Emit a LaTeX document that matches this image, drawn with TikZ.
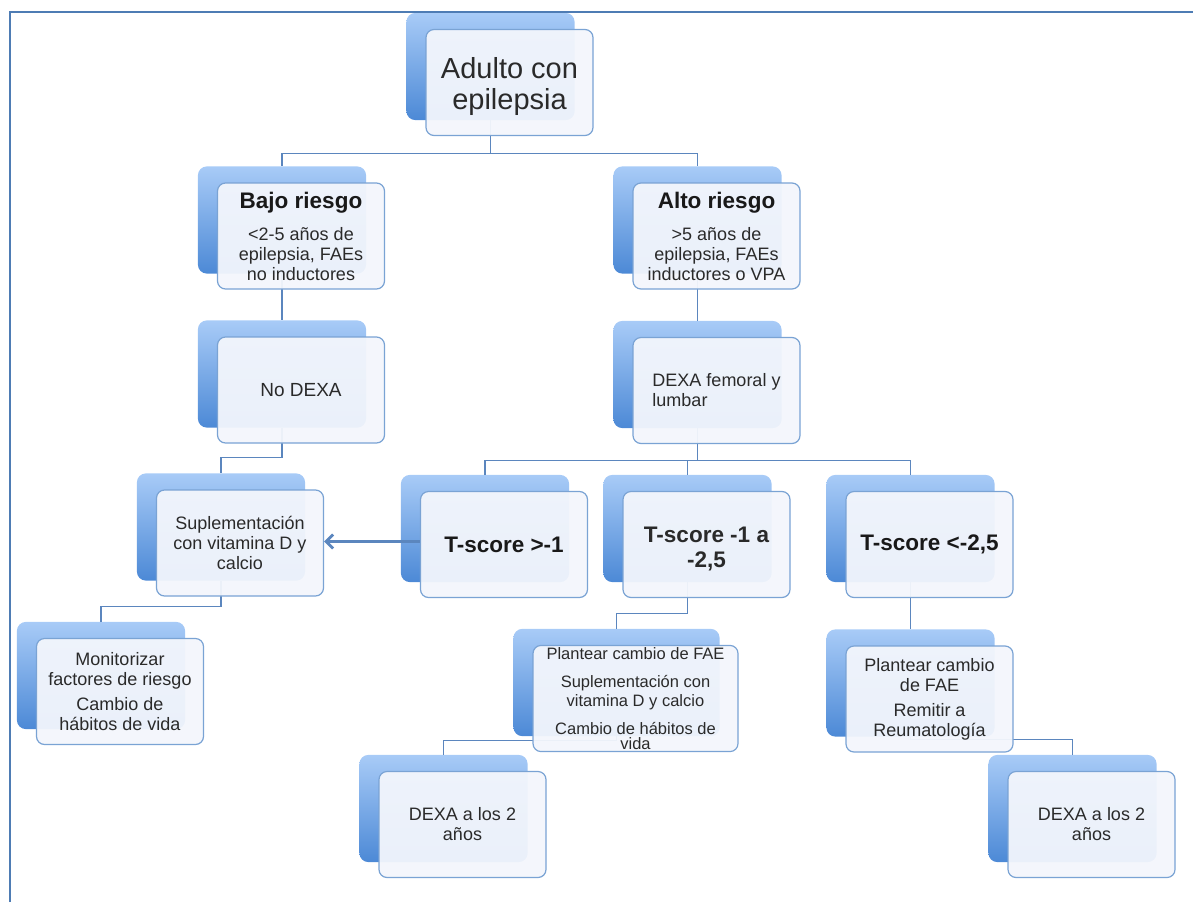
\documentclass[tikz,border=0pt]{standalone}
\usepackage{fontspec}
\setmainfont{Liberation Sans}
\usetikzlibrary{positioning,fit,arrows.meta}
\pgfdeclarelayer{back}
\pgfdeclarelayer{lines}
\pgfsetlayers{back,lines,main}
\definecolor{azulborde}{HTML}{7AA3D4}
\definecolor{azullinea}{HTML}{5B86BE}
\definecolor{azulclaro}{HTML}{A8CBF7}
\definecolor{azuloscuro}{HTML}{4C89D6}
\definecolor{fondo}{HTML}{F3F6FC}
\definecolor{marco}{HTML}{4E7CB4}
\definecolor{texto}{HTML}{2A2A2A}
\newcommand{\titulo}{\fontsize{22.5}{25}\selectfont\bfseries\color{black!90}}

\tikzset{
  caja/.style={rectangle, rounded corners=8pt, draw=azulborde, line width=1.2pt,
    fill=fondo, fill opacity=0.95, text opacity=1, minimum width=167pt,
    minimum height=106pt, inner sep=2pt, align=center, text=texto,
    font=\fontsize{18}{20}\selectfont},
  sombra/.style={rectangle, rounded corners=9pt, top color=azulclaro,
    bottom color=azuloscuro, inner sep=0pt, draw=none},
  linea/.style={draw=azullinea, line width=1.3pt},
  flecha/.style={draw=azullinea, line width=2.8pt, -{Straight Barb[length=7pt,width=14pt]}}
}

\begin{document}
\begin{tikzpicture}[x=1pt, y=-1pt]
\useasboundingbox (0,0) rectangle (1193,902);
% marco
\draw[marco, line width=2.6pt] (10,902) -- (10,12) -- (1193,12);

% cajas
\node[caja, font=\fontsize{29}{31}\selectfont] (adulto) at (509.5,82.5) {\rule{0pt}{30pt}Adulto con\\epilepsia};
\node[caja] (bajo) at (301,236) {{\titulo Bajo riesgo}\\[12pt]<2-5 años de\\epilepsia, FAEs\\no inductores};
\node[caja] (alto) at (716.5,236) {{\titulo Alto riesgo}\\[12pt]>5 años de\\epilepsia, FAEs\\inductores o VPA};
\node[caja, font=\fontsize{19}{21}\selectfont] (nodexa) at (301,390) {No DEXA};
\node[caja, align=left] (femoral) at (716.5,390.5) {DEXA femoral y\\lumbar};
\node[caja] (supl) at (240,543) {Suplementación\\con vitamina D y\\calcio};
\node[caja] (tsc1) at (504,544.5) {\titulo T-score >-1};
\node[caja, font=\titulo] (tsc2) at (706.5,544.5) {\rule{0pt}{24pt}T-score -1 a\\-2,5};
\node[caja] (tsc3) at (929.5,544.5) {\titulo T-score <-2,5};
\node[caja] (monit) at (120,691.5) {Monitorizar\\factores de riesgo\\[5pt]Cambio de\\hábitos de vida};
\node[caja, minimum width=205pt, font=\fontsize{16.5}{19}\selectfont] (planmid) at (635.5,698.5)
  {Plantear cambio de FAE\\[9pt]Suplementación con\\vitamina D y calcio\\[9pt]Cambio de hábitos de\\[-4pt]vida};
\node[caja] (planright) at (929.5,699) {Plantear cambio\\de FAE\\[5pt]Remitir a\\Reumatología};
\node[caja] (dexa1) at (462.5,824.5) {DEXA a los 2\\años};
\node[caja] (dexa2) at (1091.5,824.5) {DEXA a los 2\\años};

% cajas de fondo
\begin{pgfonlayer}{back}
\foreach \n in {adulto,bajo,alto,nodexa,femoral,supl,tsc1,tsc2,tsc3,monit,planmid,planright,dexa1,dexa2}
  \node[sombra, fit=(\n), xshift=-19pt, yshift=16pt] (\n-b) {};
\end{pgfonlayer}

% conexiones
\begin{pgfonlayer}{lines}
\draw[linea] (adulto-b.south) -- ++(0,33) coordinate (r1) -| (bajo-b.north);
\draw[linea] (r1) -| (alto-b.north);
\draw[linea] (bajo-b.south) -- (nodexa-b.north);
\draw[linea] (nodexa-b.south) -- ++(0,30) -| (supl-b.north);
\draw[linea] (supl-b.south) -- ++(0,26) -| (monit-b.north);
\draw[linea] (alto-b.south) -- (femoral-b.north);
\draw[linea] (femoral-b.south) -- ++(0,32) coordinate (r2) -| (tsc1-b.north);
\draw[linea] (r2) -| (tsc2-b.north);
\draw[linea] (r2) -| (tsc3-b.north);
\draw[linea] (tsc2-b.south) -- ++(0,31) -| (planmid-b.north);
\draw[linea] (planmid-b.south) -- ++(0,4) -| (dexa1-b.north);
\draw[linea] (tsc3-b.south) -- (planright-b.north);
\draw[linea] (planright-b.south) -- ++(0,3) -| (dexa2-b.north);
\end{pgfonlayer}

\draw[flecha] ([yshift=3pt]tsc1.west) -- ([yshift=3pt]tsc1.west -| supl.east);
\end{tikzpicture}
\end{document}
